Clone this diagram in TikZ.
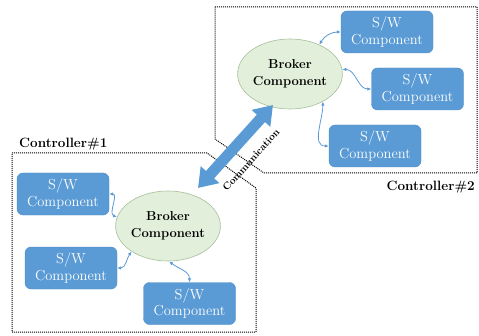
\documentclass[tikz,border=0pt]{standalone}
\usepackage{fontspec}
\usetikzlibrary{arrows.meta,shapes.geometric}
\definecolor{swblue}{HTML}{5B9BD5}
\definecolor{swedge}{HTML}{4F8CC6}
\definecolor{brokerfill}{HTML}{E2EFDA}
\definecolor{brokerline}{HTML}{A8BF9C}
\begin{document}
\begin{tikzpicture}[x=1pt,y=1pt,
 swbox/.style={rectangle, rounded corners=6pt, fill=swblue, draw=swedge, line width=0.4pt,
   minimum width=92pt, minimum height=42pt, inner sep=0pt, text=white, align=center,
   font=\rmfamily\fontsize{14.5}{16.5}\selectfont},
 broker/.style={ellipse, fill=brokerfill, draw=brokerline, line width=0.6pt,
   minimum width=78pt, minimum height=70pt, inner sep=0pt, align=center,
   font=\rmfamily\bfseries\fontsize{13}{17}\selectfont},
 ctrl/.style={draw=black, line width=1pt, dash pattern=on 1pt off 1pt},
 ctrllabel/.style={font=\rmfamily\bfseries\fontsize{13.5}{17}\selectfont, inner sep=0pt},
 commlabel/.style={font=\rmfamily\bfseries\fontsize{10}{12}\selectfont, inner sep=0pt},
 link/.style={draw=swblue, line width=0.8pt, {Latex[length=4pt,width=3.5pt]}-{Latex[length=4pt,width=3.5pt]}},
 comm/.style={draw=swblue, line width=11pt, {Triangle[length=18pt,width=24pt]}-{Triangle[length=18pt,width=24pt]}}
]
\useasboundingbox (0,0) rectangle (479,335);
\fill[white] (0,0) rectangle (479,335);

% controller regions
\draw[ctrl] (12,182) -- (207,182) -- (256,147) -- (256,3) -- (12,3) -- cycle;
\draw[ctrl] (215,328) -- (477,328) -- (477,162) -- (264,162) -- (215,196) -- cycle;

\node[ctrllabel, anchor=base west] (l1) at (19,187) {Controller\#1};
\node[ctrllabel, anchor=base east] (l2) at (475,145) {Controller\#2};

% components
\node[swbox] (s1) at (63,141) {S/W\\Component};
\node[swbox] (s2) at (71,67) {S/W\\Component};
\node[swbox] (s3) at (189.5,31.5) {S/W\\Component};
\node[swbox] (sa) at (387,303) {S/W\\Component};
\node[swbox] (sb) at (417.5,246) {S/W\\Component};
\node[swbox] (sc) at (375,189) {S/W\\Component};

\node[broker] (b1) at (168,109) {Broker\\Component};
\node[broker] (b2) at (290,261) {Broker\\Component};

% communication arrow
\coordinate (c1) at (198,147);
\coordinate (c2) at (273,230);
\draw[comm] (c1) -- (c2);
\node[commlabel, rotate=48] (ct) at (251,175) {Communication};

% links
\draw[link] (s1.east) to[out=0, in=160] (b1.170);
\draw[link] (s2.east) to[out=0, in=-125] (b1.215);
\draw[link] (b1.-88) to[out=-40, in=90] (s3.north);
\draw[link] (b2.45) to[out=60, in=180] (sa.west);
\draw[link] (b2.5) to[out=0, in=180] (sb.west);
\draw[link] (b2.-40) to[out=-90, in=180] (sc.west);
\end{tikzpicture}
\end{document}
